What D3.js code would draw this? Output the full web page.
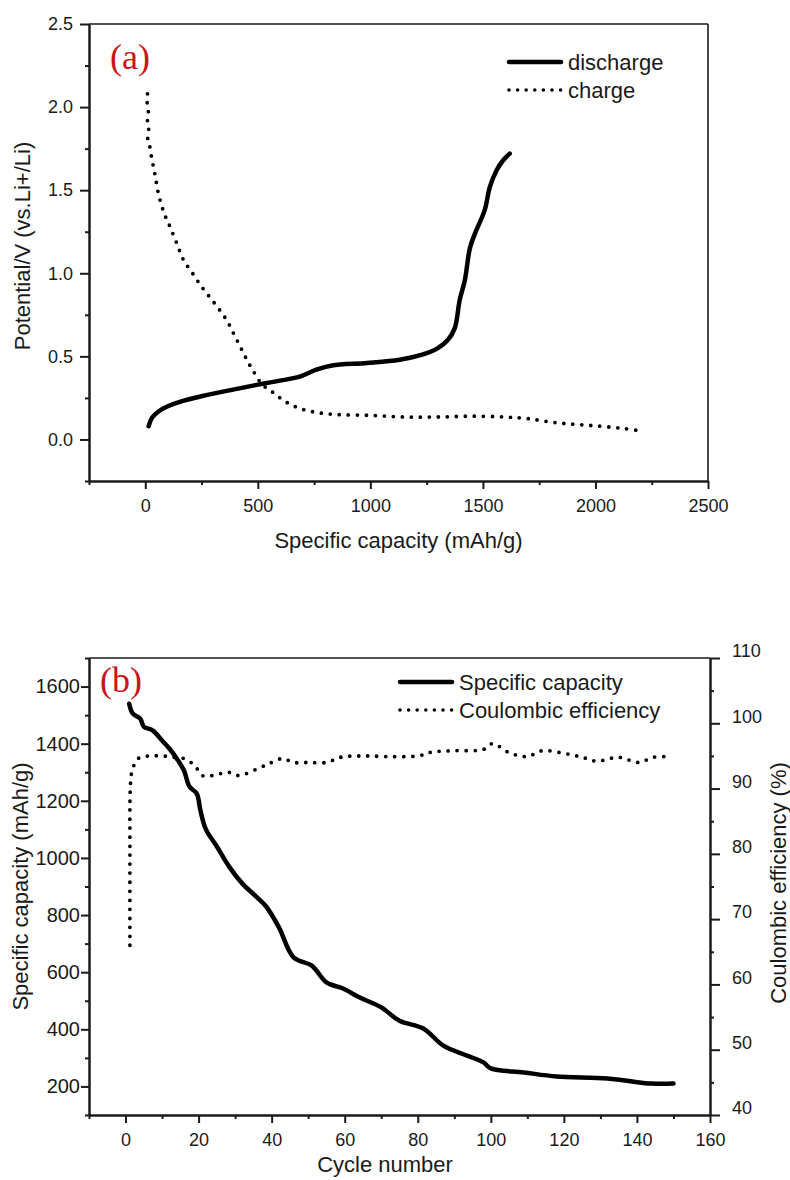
<!DOCTYPE html>
<html>
<head>
<meta charset="utf-8">
<script src="https://cdn.jsdelivr.net/npm/d3@7"></script>
<style>
  body { margin: 0; background: #fff; }
  svg { display: block; font-family: "Liberation Sans", Arial, sans-serif; }
  .axis path, .axis line { stroke: #1a1a1a; }
  .axis text { font-size: 18px; fill: #1a1a1a; font-family: "Liberation Sans", Arial, sans-serif; }
</style>
</head>
<body>
<svg id="chart" width="790" height="1180"></svg>
<script>
// ---- panel (a): first discharge / charge profile ----
const dischargeCapacity = [15, 30, 60, 100, 150, 250, 390, 540, 690, 760, 830, 985, 1130, 1230, 1300, 1345, 1375, 1397, 1420, 1442, 1465, 1508, 1531, 1561, 1590, 1619];
const dischargePotential = [0.08, 0.13, 0.17, 0.2, 0.225, 0.26, 0.3, 0.34, 0.38, 0.42, 0.445, 0.46, 0.48, 0.51, 0.55, 0.6, 0.67, 0.84, 0.96, 1.15, 1.24, 1.38, 1.52, 1.62, 1.68, 1.72];

const chargeCapacity = [10, 8, 14, 9, 16, 10, 18, 25, 35, 45, 55, 70, 90, 110, 140, 170, 210, 250, 290, 330, 365, 395, 425, 455, 485, 520, 570, 620, 680, 750, 850, 1000, 1150, 1300, 1450, 1600, 1700, 1830, 1970, 2120, 2205];
const chargePotential = [2.08, 2.03, 1.98, 1.93, 1.88, 1.82, 1.78, 1.72, 1.65, 1.58, 1.5, 1.42, 1.34, 1.28, 1.18, 1.08, 1.0, 0.92, 0.85, 0.78, 0.71, 0.63, 0.55, 0.47, 0.4, 0.33, 0.28, 0.23, 0.19, 0.165, 0.15, 0.145, 0.135, 0.135, 0.14, 0.135, 0.125, 0.1, 0.085, 0.067, 0.05];

const aXTicks = [0, 500, 1000, 1500, 2000, 2500];
const aXMinor = [-250, 250, 750, 1250, 1750, 2250];
const aYTicks = [0.0, 0.5, 1.0, 1.5, 2.0, 2.5];
const aYMinor = [-0.25, 0.25, 0.75, 1.25, 1.75, 2.25];

// ---- panel (b): cycling ----
const cycles = [1, 2, 4, 5, 7.5, 10, 12, 14, 16, 17.5, 19.5, 20.5, 22, 25, 28.5, 32, 36, 38.5, 42, 46, 51, 55, 59.5, 64, 70, 75, 81.5, 87, 93.5, 98, 100, 109, 118, 132, 144, 150];
const specificCapacity = [1540, 1505, 1488, 1460, 1446, 1411, 1383, 1348, 1306, 1250, 1225, 1166, 1100, 1040, 967, 910, 862, 830, 757, 652, 623, 564, 543, 512, 477, 430, 403, 343, 308, 284, 263, 249, 235, 228, 210, 210];

const ceCycles = [1.2, 1.2, 1.3, 1.7, 2.7, 4, 7, 10, 13, 16, 19, 21, 24, 28, 31, 36, 40, 43, 46, 50, 55, 59, 65, 72, 80, 84, 90, 98, 100.5, 105, 110, 114, 120, 125, 129, 135, 140.5, 144.5, 148];
const coulombicEfficiency = [66, 80, 90, 92.5, 94, 94.8, 95, 95, 94.8, 94.6, 93.5, 92, 92, 92.5, 92, 93, 94, 94.6, 94, 94, 94, 94.8, 95, 94.9, 95, 95.6, 95.8, 96, 96.9, 95.5, 94.9, 95.8, 95.4, 94.8, 94.2, 94.8, 94, 94.8, 94.9];

const bXTicks = [0, 20, 40, 60, 80, 100, 120, 140, 160];
const bXMinor = [-10, 10, 30, 50, 70, 90, 110, 130, 150];
const bYTicks = [200, 400, 600, 800, 1000, 1200, 1400, 1600];
const bYMinor = [100, 300, 500, 700, 900, 1100, 1300, 1500, 1700];
const bRTicks = [40, 50, 60, 70, 80, 90, 100, 110];
const bRMinor = [45, 55, 65, 75, 85, 95, 105];

const svg = d3.select("#chart");
const ink = "#1a1a1a";
const red = "#c8141c";

function zip(xs, ys) { return xs.map((x, i) => [x, ys[i]]); }

function addAxis(g, axis, tx, ty, width) {
  const a = g.append("g").attr("class", "axis").attr("transform", `translate(${tx},${ty})`).call(axis);
  a.select(".domain").attr("stroke-width", width);
  a.selectAll(".tick line").attr("stroke-width", width);
  return a;
}

function drawLine(g, data, x, y, dotted) {
  const line = d3.line().x(d => x(d[0])).y(d => y(d[1])).curve(d3.curveCatmullRom.alpha(0.5));
  const p = g.append("path").datum(data).attr("d", line)
    .attr("fill", "none").attr("stroke", "#000").attr("stroke-linejoin", "round");
  if (dotted) p.attr("stroke-width", 3.8).attr("stroke-linecap", "round").attr("stroke-dasharray", "0 9");
  else p.attr("stroke-width", 4.5).attr("stroke-linecap", "round");
  return p;
}

function legendItem(g, x1, x2, y, label, dotted) {
  const l = g.append("line").attr("x1", x1).attr("x2", x2).attr("y1", y).attr("y2", y)
    .attr("stroke", "#000").attr("stroke-linecap", "round");
  if (dotted) l.attr("stroke-width", 3.6).attr("stroke-dasharray", "0 8.6");
  else l.attr("stroke-width", 4.5);
  g.append("text").attr("x", x2 + 7).attr("y", y + 8).attr("font-size", 22).attr("fill", ink).text(label);
}

// ================= panel (a) =================
{
  const L = 89, R = 708, T = 24, B = 481;
  const x = d3.scaleLinear().domain([-250, 2500]).range([L, R]);
  const y = d3.scaleLinear().domain([-0.25, 2.5]).range([B, T]);
  const g = svg.append("g");

  // frame (top / right)
  g.append("line").attr("x1", L).attr("x2", R).attr("y1", T).attr("y2", T).attr("stroke", ink).attr("stroke-width", 1.6);
  g.append("line").attr("x1", R).attr("x2", R).attr("y1", T).attr("y2", B).attr("stroke", ink).attr("stroke-width", 1.6);

  addAxis(g, d3.axisBottom(x).tickValues(aXMinor).tickSize(4).tickSizeOuter(0).tickFormat(""), 0, B, 2);
  addAxis(g, d3.axisBottom(x).tickValues(aXTicks).tickSize(8).tickSizeOuter(0).tickPadding(10).tickFormat(d3.format("d")), 0, B, 2);
  addAxis(g, d3.axisLeft(y).tickValues(aYMinor).tickSize(4).tickSizeOuter(0).tickFormat(""), L, 0, 2);
  addAxis(g, d3.axisLeft(y).tickValues(aYTicks).tickSize(9).tickSizeOuter(0).tickPadding(7).tickFormat(d3.format(".1f")), L, 0, 2);

  drawLine(g, zip(chargeCapacity, chargePotential), x, y, true);
  drawLine(g, zip(dischargeCapacity, dischargePotential), x, y, false);

  g.append("text").attr("x", (L + R) / 2).attr("y", 548).attr("text-anchor", "middle")
    .attr("font-size", 22).attr("fill", ink).text("Specific capacity (mAh/g)");
  g.append("text").attr("transform", `translate(30,${246}) rotate(-90)`).attr("text-anchor", "middle")
    .attr("font-size", 22).attr("fill", ink).text("Potential/V (vs.Li+/Li)");

  g.append("text").attr("x", 110).attr("y", 69).attr("font-family", "'Liberation Serif', 'Times New Roman', serif")
    .attr("font-size", 36).attr("fill", red).text("(a)");

  legendItem(g, 509, 561, 62, "discharge", false);
  legendItem(g, 509, 561, 90, "charge", true);
}

// ================= panel (b) =================
{
  const L = 89, R = 710, T = 658, B = 1115;
  const x = d3.scaleLinear().domain([-10, 160]).range([L, R]);
  const y = d3.scaleLinear().domain([100, 1700]).range([B, T]);
  const y2 = d3.scaleLinear().domain([40, 110]).range([B, T]);
  const g = svg.append("g");

  g.append("line").attr("x1", L).attr("x2", R).attr("y1", T).attr("y2", T).attr("stroke", ink).attr("stroke-width", 1.6);

  addAxis(g, d3.axisBottom(x).tickValues(bXMinor).tickSize(4).tickSizeOuter(0).tickFormat(""), 0, B, 2);
  addAxis(g, d3.axisBottom(x).tickValues(bXTicks).tickSize(8).tickSizeOuter(0).tickPadding(10).tickFormat(d3.format("d")), 0, B, 2);
  addAxis(g, d3.axisLeft(y).tickValues(bYMinor).tickSize(4).tickSizeOuter(0).tickFormat(""), L, 0, 2);
  const lAxis = addAxis(g, d3.axisLeft(y).tickValues(bYTicks).tickSize(8).tickSizeOuter(0).tickPadding(1).tickFormat(d3.format("d")), L, 0, 2);
  lAxis.selectAll("text").style("font-size", "20px");
  addAxis(g, d3.axisRight(y2).tickValues(bRMinor).tickSize(4).tickSizeOuter(0).tickFormat(""), R, 0, 2);
  const rAxis = addAxis(g, d3.axisRight(y2).tickValues(bRTicks).tickSize(10).tickSizeOuter(0).tickPadding(12).tickFormat(d3.format("d")), R, 0, 2);
  rAxis.selectAll("text").attr("dy", "-0.07em");

  drawLine(g, zip(ceCycles, coulombicEfficiency).map(d => [d[0], y.invert(y2(d[1]))]), x, y, true);
  drawLine(g, zip(cycles, specificCapacity), x, y, false);

  g.append("text").attr("x", 385).attr("y", 1172).attr("text-anchor", "middle")
    .attr("font-size", 22).attr("fill", ink).text("Cycle number");
  g.append("text").attr("transform", `translate(28,${(T + B) / 2}) rotate(-90)`).attr("text-anchor", "middle")
    .attr("font-size", 22).attr("fill", ink).text("Specific capacity (mAh/g)");
  g.append("text").attr("transform", `translate(786,${883}) rotate(-90)`).attr("text-anchor", "middle")
    .attr("font-size", 22).attr("fill", ink).text("Coulombic efficiency (%)");

  g.append("text").attr("x", 100).attr("y", 692).attr("font-family", "'Liberation Serif', 'Times New Roman', serif")
    .attr("font-size", 36).attr("fill", red).text("(b)");

  legendItem(g, 400, 452, 682, "Specific capacity", false);
  legendItem(g, 400, 452, 710, "Coulombic efficiency", true);
}
</script>
</body>
</html>
